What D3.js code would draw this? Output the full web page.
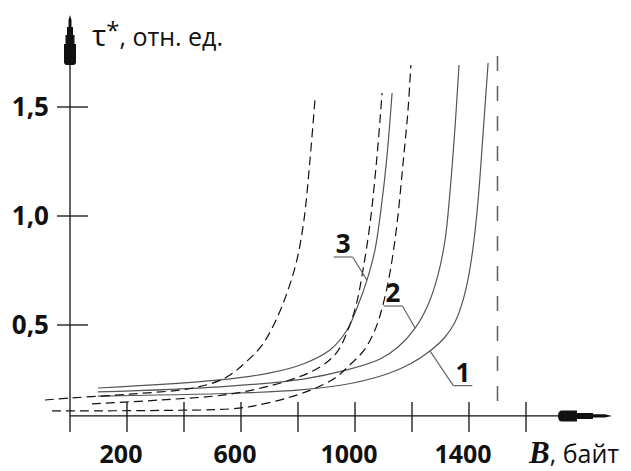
<!DOCTYPE html>
<html>
<head>
<meta charset="utf-8">
<script src="https://cdn.jsdelivr.net/npm/d3@7/dist/d3.min.js"></script>
<style>
  body { margin: 0; background: #fff; }
  svg { display: block; }
</style>
</head>
<body>
<svg id="chart" width="631" height="471"></svg>
<script>
// Axis ticks
const xTicks = [200, 400, 600, 800, 1000, 1200, 1400, 1600];
const xTickLabels = [200, 600, 1000, 1400];
const yTicks = [0.5, 1.0, 1.5];
const yTickLabels = ["0,5", "1,0", "1,5"];
const axisLevel = 0.083;   // τ* value where the B axis crosses
const limitB = 1500;       // asymptote B

// Solid curves 1, 2, 3 (B, байт → τ*, отн. ед.)
const curve1B = [98, 596, 807, 993, 1112, 1193, 1263, 1316, 1351, 1375, 1396, 1414, 1432, 1449, 1467];
const curve1T = [0.174, 0.188, 0.202, 0.234, 0.275, 0.321, 0.381, 0.445, 0.514, 0.596, 0.706, 0.853, 1.073, 1.372, 1.702];
const curve2B = [98, 526, 818, 972, 1088, 1151, 1211, 1256, 1291, 1316, 1333, 1351, 1365];
const curve2T = [0.193, 0.216, 0.252, 0.294, 0.344, 0.399, 0.486, 0.592, 0.729, 0.890, 1.106, 1.408, 1.693];
const curve3B = [98, 526, 702, 818, 912, 972, 1011, 1042, 1070, 1091, 1112, 1130];
const curve3T = [0.211, 0.248, 0.280, 0.321, 0.385, 0.477, 0.592, 0.706, 0.844, 1.028, 1.271, 1.564];

// Dashed curves
const dashAB = [-88, 0, 211, 432, 544, 614, 674, 723, 765, 796, 821, 842, 860];
const dashAT = [0.156, 0.165, 0.183, 0.211, 0.257, 0.326, 0.408, 0.523, 0.661, 0.798, 0.982, 1.257, 1.541];
const dashBB = [77, 316, 561, 761, 877, 937, 975, 1004, 1028, 1053, 1077, 1095];
const dashBT = [0.138, 0.156, 0.183, 0.243, 0.307, 0.376, 0.477, 0.592, 0.752, 0.968, 1.271, 1.564];
const dashCB = [-63, 316, 561, 642, 761, 853, 930, 982, 1032, 1070, 1098, 1123, 1147, 1168, 1186, 1196];
const dashCT = [0.106, 0.108, 0.115, 0.128, 0.165, 0.206, 0.257, 0.317, 0.385, 0.477, 0.592, 0.743, 0.959, 1.234, 1.486, 1.693];

// Curve labels: text, point on the curve, underline start (B, τ*)
const labelText = ["1", "2", "3"];
const labelCurveB = [1263, 1211, 1042];
const labelCurveT = [0.381, 0.486, 0.706];
const labelLineB = [1345, 1100, 925];
const labelLineT = [0.222, 0.587, 0.812];

const svg = d3.select("#chart");
const x = d3.scaleLinear().domain([0, 1600]).range([70, 526]);
const y = d3.scaleLinear().domain([0, 1.5]).range([434, 107]);
const x0 = x(0), y0 = y(axisLevel);
const ink = "#111";

const line = d3.line().x(d => x(d[0])).y(d => y(d[1])).curve(d3.curveCatmullRom.alpha(0.5));
const pairs = (bs, ts) => bs.map((b, i) => [b, ts[i]]);

// asymptote
svg.append("line")
  .attr("x1", x(limitB)).attr("x2", x(limitB))
  .attr("y1", 56).attr("y2", y0)
  .attr("stroke", "#666").attr("stroke-width", 1.6)
  .attr("stroke-dasharray", "15,15");

// axes
const g = svg.append("g").attr("stroke", ink).attr("stroke-width", 1.3);
g.append("line").attr("x1", x0).attr("x2", 606).attr("y1", y0).attr("y2", y0);
g.append("line").attr("x1", x0).attr("x2", x0).attr("y1", 432).attr("y2", 18);
g.selectAll(".xt").data(xTicks).join("line")
  .attr("x1", d => x(d)).attr("x2", d => x(d))
  .attr("y1", y0 - 14).attr("y2", y0 + 16);
g.selectAll(".yt").data(yTicks).join("line")
  .attr("x1", x0 - 13).attr("x2", x0 + 18)
  .attr("y1", d => y(d)).attr("y2", d => y(d));

// arrowheads
svg.append("path")
  .attr("d", `M${x0},15 L${x0+1.5},20 L${x0+1.5},27 L${x0+3},27 L${x0+3},35 L${x0+4.5},35 L${x0+4.5},44 L${x0+6},44 L${x0+6},62 Q${x0+6},65 ${x0+3},65 L${x0-3},65 Q${x0-6},65 ${x0-6},62 L${x0-6},44 L${x0-4.5},44 L${x0-4.5},35 L${x0-3},35 L${x0-3},27 L${x0-1.5},27 L${x0-1.5},20 Z`)
  .attr("fill", ink);
svg.append("path")
  .attr("d", `M612,${y0} L605,${y0-1.7} L593,${y0-1.7} L593,${y0-3} L577,${y0-3} L577,${y0-5.5} L562,${y0-5.5} Q558,${y0-5.5} 558,${y0} Q558,${y0+5.5} 562,${y0+5.5} L577,${y0+5.5} L577,${y0+3} L593,${y0+3} L593,${y0+1.7} L605,${y0+1.7} Z`)
  .attr("fill", ink);

// tick labels
svg.append("g").selectAll("text").data(xTickLabels).join("text")
  .attr("x", d => x(d) - 6).attr("y", 463)
  .attr("text-anchor", "middle")
  .attr("font-family", "'Open Sans', sans-serif").attr("font-weight", 700)
  .attr("font-size", 25).attr("fill", ink)
  .text(d => d);
svg.append("g").selectAll("text").data(yTicks).join("text")
  .attr("x", 49).attr("y", d => y(d) + 9)
  .attr("text-anchor", "end")
  .attr("font-family", "'Open Sans', sans-serif").attr("font-weight", 700)
  .attr("font-size", 26).attr("fill", ink)
  .text((d, i) => yTickLabels[i]);

// axis titles
const yt = svg.append("text").attr("x", 92).attr("y", 46)
  .attr("font-family", "'Open Sans', sans-serif").attr("fill", ink);
yt.append("tspan").attr("font-size", 30).text("τ");
yt.append("tspan").attr("font-size", 24).attr("dy", -7).text("*");
yt.append("tspan").attr("font-size", 25).attr("dy", 7).text(", отн. ед.");

const xt = svg.append("text").attr("x", 529).attr("y", 463)
  .attr("fill", ink);
xt.append("tspan").attr("font-family", "'Liberation Serif', serif")
  .attr("font-weight", 700).attr("font-style", "italic").attr("font-size", 31).text("B");
xt.append("tspan").attr("font-family", "'Open Sans', sans-serif")
  .attr("font-size", 25).text(", байт");

// curves
const solids = [pairs(curve1B, curve1T), pairs(curve2B, curve2T), pairs(curve3B, curve3T)];
svg.append("g").selectAll("path").data(solids).join("path")
  .attr("d", line).attr("fill", "none")
  .attr("stroke", "#555").attr("stroke-width", 1.2);

const dashed = [pairs(dashAB, dashAT), pairs(dashBB, dashBT), pairs(dashCB, dashCT)];
svg.append("g").selectAll("path").data(dashed).join("path")
  .attr("d", line).attr("fill", "none")
  .attr("stroke", ink).attr("stroke-width", 1.2)
  .attr("stroke-dasharray", "9,5");

// curve labels with leaders
labelText.forEach((t, i) => {
  const cx = x(labelCurveB[i]), cy = y(labelCurveT[i]);
  const lx = x(labelLineB[i]), ly = y(labelLineT[i]);
  const w = 19;
  const leadX = i === 0 ? lx : lx + w;
  svg.append("line").attr("x1", lx).attr("x2", lx + w).attr("y1", ly).attr("y2", ly)
    .attr("stroke", "#666").attr("stroke-width", 1.2);
  svg.append("line").attr("x1", leadX).attr("y1", ly).attr("x2", cx).attr("y2", cy)
    .attr("stroke", "#666").attr("stroke-width", 1.2);
  svg.append("text").attr("x", lx + w / 2).attr("y", ly - 4)
    .attr("text-anchor", "middle")
    .attr("font-family", "'Open Sans', sans-serif").attr("font-weight", 700)
    .attr("font-size", 26).attr("fill", ink).text(t);
});
</script>
</body>
</html>
